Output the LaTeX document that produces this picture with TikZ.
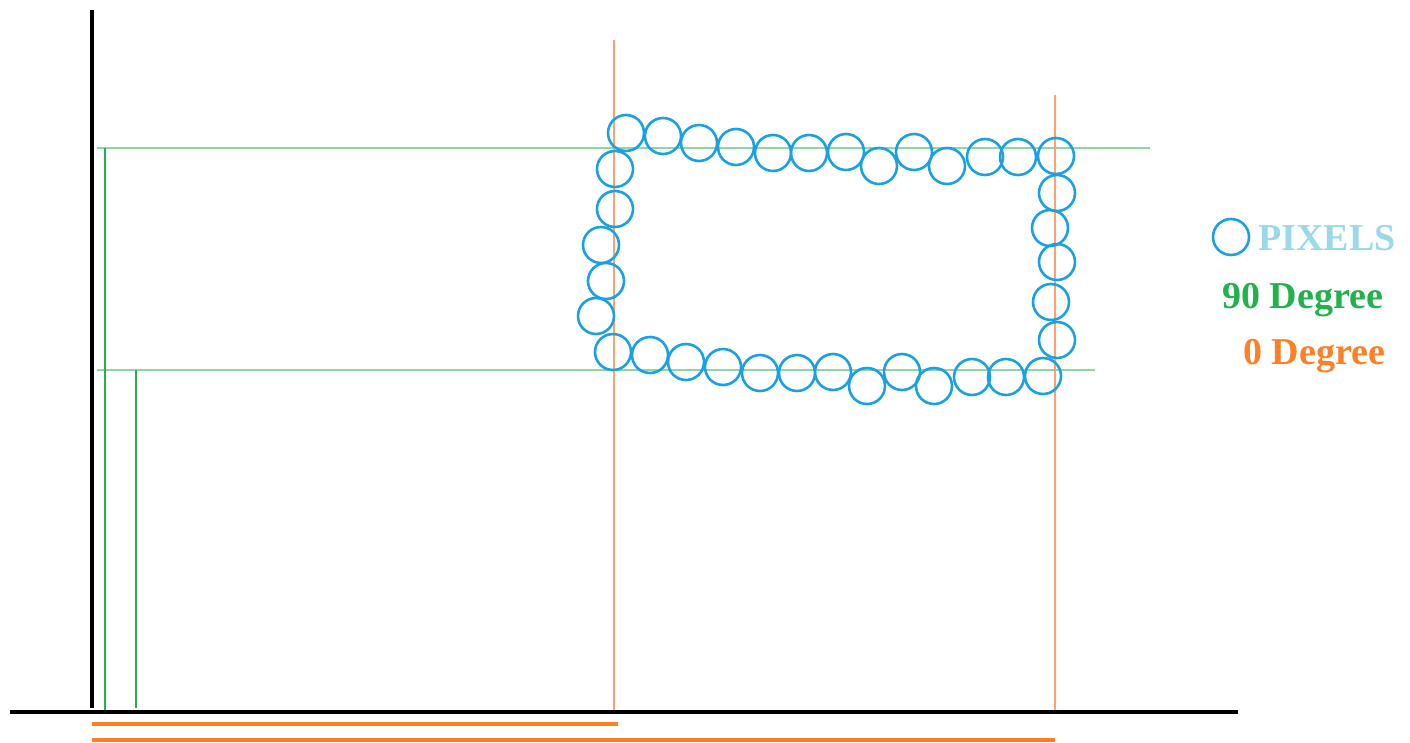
\documentclass[tikz,border=0pt]{standalone}
\usepackage{fontspec}
\setmainfont{Liberation Serif}
\definecolor{pixblue}{HTML}{1BA1E2}
\definecolor{lblue}{HTML}{99D9EA}
\definecolor{dgreen}{HTML}{22B14C}
\definecolor{lgreen}{HTML}{8ED7A0}
\definecolor{orng}{HTML}{FF7F27}
\definecolor{lorng}{HTML}{FFA070}
\begin{document}
\begin{tikzpicture}[x=1pt,y=-1pt,
  pix/.style={circle,draw=pixblue,line width=2.6pt,minimum size=36pt,inner sep=0pt},
  axis/.style={line width=4pt,black},
  vgreen/.style={line width=2pt,dgreen},
  hgreen/.style={line width=1.3pt,lgreen},
  vorange/.style={line width=1.2pt,lorng},
  horange/.style={line width=3.5pt,orng},
  legend/.style={font=\fontsize{38}{40}\selectfont\bfseries,anchor=base west,inner sep=0pt}]
\useasboundingbox (0,0) rectangle (1410,742);
% guide lines
\draw[hgreen] (97,148) -- (1150,148);
\draw[hgreen] (97,370) -- (1095,370);
\draw[vorange] (614,40) -- (614,712);
\draw[vorange] (1055,95) -- (1055,712);
\draw[vgreen] (105,148) -- (105,712);
\draw[vgreen] (136,370) -- (136,708);
% axes
\draw[axis] (92,10) -- (92,708);
\draw[axis] (10,712) -- (1238,712);
% orange ranges
\draw[horange] (92,724) -- (618,724);
\draw[horange] (92,740) -- (1055,740);
% pixels: top row
\foreach \x/\y [count=\i] in {626/133,663/136,699/143,736/147,773/153,809/153,846/152,879/166,914/152,947/166,985/157,1018/157,1056/156}
  \node[pix] (t\i) at (\x,\y) {};
% right column
\foreach \x/\y [count=\i] in {1057/193,1050/228,1057/262,1051/302,1057/340}
  \node[pix] (r\i) at (\x,\y) {};
% bottom row
\foreach \x/\y [count=\i] in {613/352,650/355,686/362,723/367,760/373,797/373,833/372,867/386,902/372,934/386,972/377,1006/377,1043/376}
  \node[pix] (b\i) at (\x,\y) {};
% left column
\foreach \x/\y [count=\i] in {615/169,615/209,601/245,606/281,596/316}
  \node[pix] (l\i) at (\x,\y) {};
% legend
\node[pix] (lg) at (1231,237) {};
\node[legend,text=lblue] (lp) at (1258,250) {PIXELS};
\node[legend,text=dgreen] (l90) at (1222,308) {90 Degree};
\node[legend,text=orng] (l0) at (1243,364) {0 Degree};
\end{tikzpicture}
\end{document}
